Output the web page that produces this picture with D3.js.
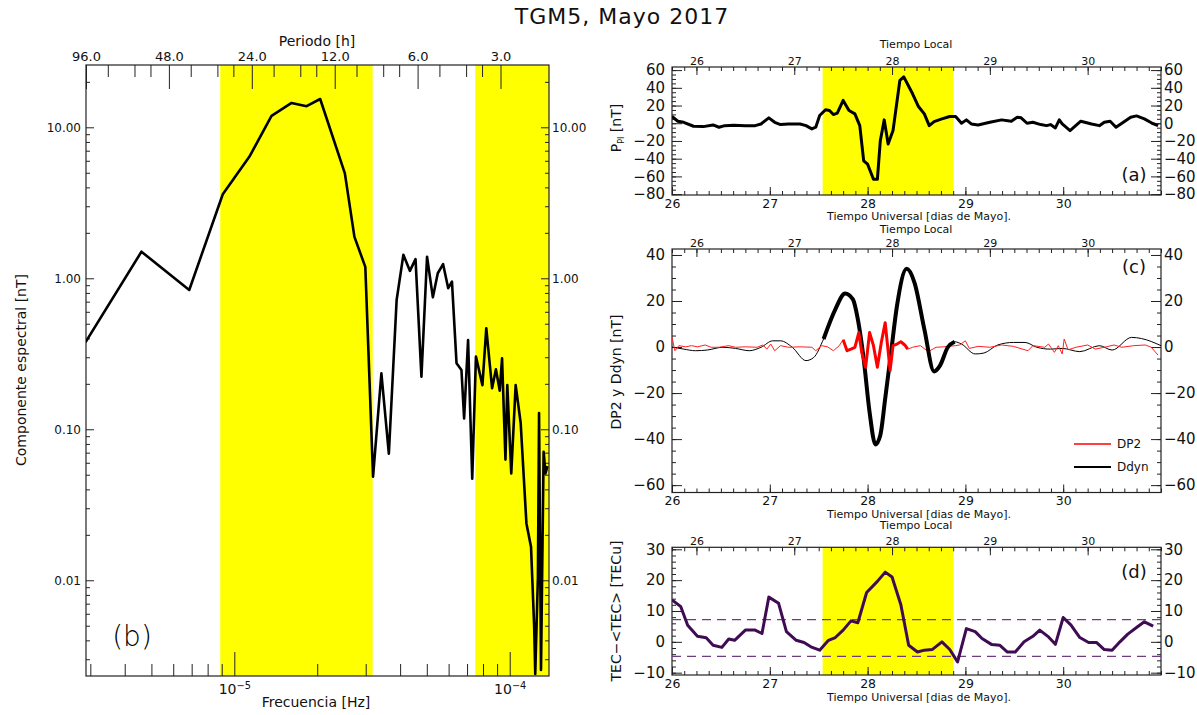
<!DOCTYPE html>
<html>
<head>
<meta charset="utf-8">
<script src="https://cdn.jsdelivr.net/npm/d3@7"></script>
<style>
  html, body { margin: 0; padding: 0; background: #fff; }
  svg { display: block; }
  text { font-family: 'DejaVu Sans', 'Liberation Sans', sans-serif; fill: #111; }
</style>
</head>
<body>
<svg id="chart" width="1197" height="715"></svg>
<script>
// ---------------- DATA ----------------
// Panel (b): spectral component vs frequency
const specFreq = [2.88e-6, 4.60e-6, 6.86e-6, 9.08e-6, 1.135e-5, 1.365e-5, 1.614e-5, 1.83e-5, 2.05e-5, 2.52e-5,
  2.73e-5, 2.99e-5, 3.19e-5, 3.42e-5, 3.64e-5, 3.885e-5, 4.11e-5, 4.34e-5, 4.55e-5, 4.78e-5,
  5.01e-5, 5.26e-5, 5.48e-5, 5.73e-5, 5.98e-5, 6.17e-5, 6.41e-5, 6.68e-5, 6.83e-5, 7.06e-5,
  7.31e-5, 7.54e-5, 7.96e-5, 8.22e-5, 8.63e-5, 8.91e-5, 9.20e-5, 9.38e-5, 9.65e-5, 9.80e-5,
  1.013e-4, 1.051e-4, 1.096e-4, 1.150e-4, 1.195e-4, 1.227e-4, 1.238e-4, 1.266e-4, 1.278e-4, 1.299e-4,
  1.328e-4, 1.349e-4, 1.371e-4];
const specAmp = [0.377, 1.50, 0.837, 3.6, 6.4, 11.9, 14.5, 13.8, 15.4, 4.95,
  1.88, 1.19, 0.0485, 0.235, 0.069, 0.718, 1.43, 1.12, 1.34, 0.223,
  1.39, 0.748, 1.08, 1.24, 0.86, 0.95, 0.274, 0.247, 0.118, 0.39,
  0.047, 0.303, 0.196, 0.467, 0.187, 0.25, 0.18, 0.295, 0.063, 0.196,
  0.051, 0.196, 0.11, 0.0238, 0.0167, 0.0049, 0.0024, 0.0106, 0.128, 0.00255,
  0.071, 0.051, 0.057];
const periodMajor = [96, 48, 24, 12, 6, 3];           // hours
const periodMinor = [80, 64, 56, 40, 32, 28, 20, 16, 14, 10, 8, 7, 5, 4, 3.5];
const specYMajor = [0.01, 0.1, 1, 10];
const specYLabels = ["0.01", "0.10", "1.00", "10.00"];
const freqMajor = [1e-5, 1e-4];
const freqBands = [[8.89e-6, 3.18e-5], [7.50e-5, 1.389e-4]];

// Panel (a): P_PI
const utA = [26.00, 26.06, 26.12, 26.22, 26.32, 26.42, 26.48, 26.54, 26.63, 26.75, 26.85, 26.91, 26.99, 27.05, 27.11,
  27.19, 27.31, 27.37, 27.43, 27.47, 27.51, 27.57, 27.61, 27.65, 27.69, 27.75, 27.81, 27.87, 27.92, 27.96,
  28.00, 28.06, 28.10, 28.13, 28.17, 28.21, 28.26, 28.33, 28.37, 28.46, 28.52, 28.58, 28.63, 28.68, 28.76,
  28.84, 28.90, 28.96, 29.01, 29.06, 29.13, 29.25, 29.37, 29.47, 29.53, 29.57, 29.63, 29.69, 29.77, 29.83,
  29.87, 29.92, 29.96, 29.99, 30.07, 30.18, 30.29, 30.37, 30.42, 30.48, 30.54, 30.60, 30.69, 30.75, 30.83,
  30.91, 30.97];
const ppi = [7.6, 2.3, 1.1, -3.4, -3.8, -1.9, -4.5, -2.7, -2.3, -2.7, -2.7, -0.8, 6.1, 1.1, -1.5,
  -0.8, -0.8, -2.7, -6.4, -4.5, 8.7, 15.2, 14.4, 9.8, 11.4, 25.8, 14.4, 10.6, -2.7, -42.4,
  -46.2, -63.3, -63.3, -19.7, 3.8, -23.5, -8.3, 48.5, 52.3, 33.3, 18.9, 10.6, -2.7, 1.9, 4.9,
  7.6, 7.6, 0.0, 3.8, -0.8, -1.9, 1.1, 3.8, 2.3, 6.8, 6.1, 0.0, 1.1, -1.5, -2.7,
  -1.5, -5.3, 3.8, -0.8, -8.3, 2.3, -0.8, -2.7, 1.1, 2.3, -4.5, 0.0, 6.8, 8.3, 4.9,
  0.0, -2.7];
const stormWindow = [27.54, 28.88];   // UT days (yellow band)

// Panel (c): Ddyn and DP2
const utDdyn = [26.00, 26.12, 26.24, 26.36, 26.52, 26.65, 26.79, 26.91, 27.03, 27.11, 27.23, 27.37, 27.45, 27.55, 27.67,
  27.77, 27.85, 27.90, 27.96, 28.02, 28.08, 28.13, 28.18, 28.24, 28.30, 28.40, 28.48, 28.58, 28.68, 28.74,
  28.82, 28.89, 28.96, 29.10, 29.19, 29.33, 29.49, 29.61, 29.73, 29.87, 29.99, 30.17, 30.37, 30.50, 30.70,
  30.80, 31.00];
const ddyn = [0.0, -0.9, -1.6, -1.3, -0.1, -0.6, -1.6, -0.1, 2.7, 2.7, -0.1, -5.9, -4.5, 3.5, 16.4,
  23.3, 20.7, 12.1, -5.2, -28.2, -42.3, -38.3, -22.4, -2.3, 17.8, 34.0, 27.9, 7.8, -10.6, -8.1,
  -0.1, 2.3, 1.3, -3.0, -2.6, 0.9, 2.0, 2.0, -0.1, -0.9, -0.6, -2.0, 0.6, -1.3, 4.2,
  3.7, 0.6];
const ddynThick = [27.54, 28.89];
const utDP2 = [26.00, 26.03, 26.07, 26.14, 26.20, 26.26, 26.34, 26.40, 26.48, 26.58, 26.65, 26.75, 26.87, 26.93, 26.97,
  27.01, 27.05, 27.11, 27.19, 27.31, 27.43, 27.47, 27.53, 27.59, 27.65, 27.71, 27.75, 27.79, 27.83, 27.87,
  27.91, 27.94, 27.98, 28.02, 28.06, 28.10, 28.14, 28.18, 28.23, 28.26, 28.30, 28.34, 28.38, 28.41, 28.46,
  28.54, 28.62, 28.70, 28.78, 28.90, 28.94, 29.00, 29.04, 29.13, 29.25, 29.37, 29.49, 29.64, 29.69, 29.81,
  29.85, 29.91, 29.95, 29.99, 30.01, 30.05, 30.13, 30.25, 30.33, 30.44, 30.52, 30.60, 30.72, 30.84, 30.90,
  30.97];
const dp2 = [4.2, -1.6, 0.6, 0.1, 0.6, 0.1, 0.9, -0.1, -0.1, 0.6, -0.1, 0.1, -0.1, 0.9, -0.9,
  1.3, -1.6, 0.6, -0.1, 0.1, -0.1, -1.6, 0.6, 0.1, -1.6, 0.6, 3.2, -1.6, -0.9, -0.1,
  6.3, -2.3, -8.8, 6.3, 0.6, -8.8, 2.0, 10.6, -10.2, 0.6, 1.3, 2.3, 0.9, -0.9, -0.1,
  0.6, -2.0, -0.1, 0.1, 0.6, 0.9, 2.7, -0.6, 0.3, -0.1, 0.9, 0.3, -1.6, 0.6, -0.1,
  1.3, -2.3, 0.6, -3.0, 3.5, -1.2, -0.1, 0.9, -0.9, 0.1, 0.9, -0.1, 0.6, 0.9, -0.1,
  -3.5];
const dp2Thick = [27.72, 28.42];

// Panel (d): TEC - <TEC>
const utTec = [26.00, 26.09, 26.16, 26.26, 26.35, 26.42, 26.51, 26.58, 26.64, 26.75, 26.85, 26.92, 26.99, 27.09, 27.17,
  27.27, 27.35, 27.42, 27.51, 27.60, 27.67, 27.75, 27.83, 27.90, 27.99, 28.10, 28.18, 28.25, 28.34, 28.42,
  28.51, 28.58, 28.66, 28.76, 28.84, 28.92, 29.01, 29.10, 29.17, 29.27, 29.35, 29.43, 29.51, 29.60, 29.69,
  29.76, 29.85, 29.92, 30.00, 30.08, 30.17, 30.26, 30.34, 30.42, 30.50, 30.58, 30.66, 30.76, 30.83, 30.92];
const tec = [13.6, 11.4, 5.4, 1.8, 1.3, -1.1, -1.8, 0.9, 0.5, 3.8, 3.8, 2.7, 14.5, 12.5, 3.3,
  0.5, -0.2, -1.6, -2.7, 0.5, 1.4, 3.8, 6.8, 6.2, 16.0, 19.6, 22.6, 21.0, 12.0, -1.1,
  -3.3, -2.7, -2.5, 0.0, -2.5, -6.5, 4.3, 3.3, 1.1, -0.9, -1.1, -3.3, -3.3, 0.0, 1.8,
  3.8, 1.6, -0.8, 7.9, 5.4, 1.4, -0.2, -0.2, -2.5, -2.7, 0.0, 2.5, 4.9, 6.5, 5.1];
const tecBands = [7.2, -4.7];

const utTicks = [26, 27, 28, 29, 30];
const ltTicks = [26, 27, 28, 29, 30];
const ltOffset = 0.25;  // Local time = UT - 6 h

// ---------------- DRAW ----------------
const svg = d3.select("#chart");
const AX = "#222";
const YEL = "#ffff00";

svg.append("text").attr("x", 622).attr("y", 18).attr("text-anchor", "middle")
  .attr("dominant-baseline", "middle").attr("font-size", 22).attr("letter-spacing", 1)
  .text("TGM5, Mayo 2017");

// ===== Panel (b) =====
{
  const L = 86, R = 549, T = 65, B = 676;
  const x = d3.scaleLog().domain([1 / (96 * 3600), 1 / (2 * 3600)]).range([L, R]);
  const y = d3.scaleLog().domain([Math.pow(10, -2.634), Math.pow(10, 1.4126)]).range([B, T]);
  const g = svg.append("g");
  const clipId = "clipB";
  svg.append("clipPath").attr("id", clipId).append("rect")
    .attr("x", L).attr("y", T).attr("width", R - L).attr("height", B - T);

  freqBands.forEach(b => {
    g.append("rect").attr("x", x(b[0])).attr("y", T).attr("width", x(b[1]) - x(b[0]))
      .attr("height", B - T).attr("fill", YEL);
  });

  // bottom axis (frequency)
  const fMinor = [];
  [-6, -5, -4].forEach(e => { for (let k = 2; k <= 9; k++) { const v = k * Math.pow(10, e); if (v >= x.domain()[0] && v <= x.domain()[1]) fMinor.push(v); } });
  g.append("g").attr("transform", `translate(0,${B})`)
    .call(d3.axisBottom(x).tickValues(fMinor).tickSize(-12).tickSizeOuter(0).tickFormat(""))
    .call(s => s.select(".domain").remove());
  const bx = g.append("g").attr("transform", `translate(0,${B})`)
    .call(d3.axisBottom(x).tickValues(freqMajor).tickSize(-24).tickSizeOuter(0).tickPadding(8))
    .call(s => s.select(".domain").remove());
  bx.selectAll(".tick text").attr("font-size", 14).each(function (d) {
    const t = d3.select(this);
    const e = Math.round(Math.log10(d));
    t.text("10");
    t.append("tspan").attr("dy", "-0.55em").attr("font-size", "0.7em").text("−" + Math.abs(e));
  });

  // top axis (period)
  g.append("g").attr("transform", `translate(0,${T})`)
    .call(d3.axisTop(x).tickValues(periodMinor.map(p => 1 / (p * 3600))).tickSize(-12).tickSizeOuter(0).tickFormat(""))
    .call(s => s.select(".domain").remove());
  g.append("g").attr("transform", `translate(0,${T})`)
    .call(d3.axisTop(x).tickValues(periodMajor.map(p => 1 / (p * 3600))).tickSize(-24).tickSizeOuter(0).tickPadding(4)
      .tickFormat(d => (1 / (d * 3600)).toFixed(1)))
    .call(s => s.select(".domain").remove())
    .selectAll(".tick text").attr("font-size", 13);

  // y axes
  const yMinor = [];
  [-3, -2, -1, 0, 1].forEach(e => { for (let k = 2; k <= 9; k++) { const v = k * Math.pow(10, e); if (v >= y.domain()[0] && v <= y.domain()[1]) yMinor.push(v); } });
  [[d3.axisLeft, L, 5], [d3.axisRight, R, 3]].forEach(([ax, px, pad]) => {
    g.append("g").attr("transform", `translate(${px},0)`)
      .call(ax(y).tickValues(yMinor).tickSize(-4).tickSizeOuter(0).tickFormat(""))
      .call(s => s.select(".domain").remove());
    g.append("g").attr("transform", `translate(${px},0)`)
      .call(ax(y).tickValues(specYMajor).tickSize(-8).tickSizeOuter(0).tickPadding(pad)
        .tickFormat((d, i) => specYLabels[i]))
      .call(s => s.select(".domain").remove())
      .selectAll(".tick text").attr("font-size", 12);
  });
  g.selectAll(".tick line").attr("stroke", AX);

  g.append("rect").attr("x", L).attr("y", T).attr("width", R - L).attr("height", B - T)
    .attr("fill", "none").attr("stroke", AX).attr("stroke-width", 1.2);

  const line = d3.line().x((d, i) => x(specFreq[i])).y(d => y(d));
  g.append("path").datum(specAmp).attr("clip-path", `url(#${clipId})`)
    .attr("d", line).attr("fill", "none").attr("stroke", "#000").attr("stroke-width", 2.6)
    .attr("stroke-linejoin", "round");

  g.append("text").attr("x", 317).attr("y", 42).attr("text-anchor", "middle").attr("dominant-baseline", "middle")
    .attr("font-size", 14).text("Periodo [h]");
  g.append("text").attr("x", 316).attr("y", 703).attr("text-anchor", "middle").attr("dominant-baseline", "middle")
    .attr("font-size", 14).text("Frecuencia [Hz]");
  g.append("text").attr("transform", "translate(22,370) rotate(-90)").attr("text-anchor", "middle")
    .attr("dominant-baseline", "middle").attr("font-size", 14).text("Componente espectral [nT]");
  g.append("text").attr("x", 132).attr("y", 638).attr("text-anchor", "middle").attr("dominant-baseline", "middle")
    .attr("font-size", 28).attr("font-weight", 300).style("fill", "#000").text("(b)");
}

// ===== Right time-series panels =====
const XL = 672, XR = 1161;
const xUT = d3.scaleLinear().domain([26, 31]).range([XL, XR]);
const xLT = d3.scaleLinear().domain([26 - ltOffset, 31 - ltOffset]).range([XL, XR]);

function timePanel(opt) {
  const { T, B, dom, major, minor, id } = opt;
  const y = d3.scaleLinear().domain(dom).range([B, T]);
  const g = svg.append("g");
  svg.append("clipPath").attr("id", id).append("rect")
    .attr("x", XL).attr("y", T).attr("width", XR - XL).attr("height", B - T);
  if (opt.shade) {
    g.append("rect").attr("x", xUT(stormWindow[0])).attr("y", T)
      .attr("width", xUT(stormWindow[1]) - xUT(stormWindow[0])).attr("height", B - T).attr("fill", YEL);
  }
  const minorX = d3.range(26, 31.001, 0.125);
  // bottom
  g.append("g").attr("transform", `translate(0,${B})`)
    .call(d3.axisBottom(xUT).tickValues(minorX).tickSize(-4).tickSizeOuter(0).tickFormat(""))
    .call(s => s.select(".domain").remove());
  g.append("g").attr("transform", `translate(0,${B})`)
    .call(d3.axisBottom(xUT).tickValues(utTicks).tickSize(-8).tickSizeOuter(0).tickPadding(4).tickFormat(d3.format("d")))
    .call(s => s.select(".domain").remove())
    .selectAll(".tick text").attr("font-size", 12.5);
  // top (local time)
  const minorLT = d3.range(25.75, 30.751, 0.125);
  g.append("g").attr("transform", `translate(0,${T})`)
    .call(d3.axisTop(xLT).tickValues(minorLT).tickSize(-4).tickSizeOuter(0).tickFormat(""))
    .call(s => s.select(".domain").remove());
  g.append("g").attr("transform", `translate(0,${T})`)
    .call(d3.axisTop(xLT).tickValues(ltTicks).tickSize(-8).tickSizeOuter(0).tickPadding(2).tickFormat(d3.format("d")))
    .call(s => s.select(".domain").remove())
    .selectAll(".tick text").attr("font-size", 11);
  // y axes
  const yMaj = d3.range(opt.yMin, opt.yMax + 0.001, major);
  const yMin = d3.range(opt.yMin, opt.yMax + 0.001, minor);
  [[d3.axisLeft, XL, 7], [d3.axisRight, XR, 3]].forEach(([ax, px, pad]) => {
    g.append("g").attr("transform", `translate(${px},0)`)
      .call(ax(y).tickValues(yMin).tickSize(-4).tickSizeOuter(0).tickFormat(""))
      .call(s => s.select(".domain").remove());
    g.append("g").attr("transform", `translate(${px},0)`)
      .call(ax(y).tickValues(yMaj).tickSize(-10).tickSizeOuter(0).tickPadding(pad).tickFormat(d3.format("d")))
      .call(s => s.select(".domain").remove())
      .selectAll(".tick text").attr("font-size", 15);
  });
  g.selectAll(".tick line").attr("stroke", AX);
  g.append("rect").attr("x", XL).attr("y", T).attr("width", XR - XL).attr("height", B - T)
    .attr("fill", "none").attr("stroke", AX).attr("stroke-width", 1.2);

  g.append("text").attr("x", 916).attr("y", opt.ltY).attr("text-anchor", "middle").attr("dominant-baseline", "middle")
    .attr("font-size", 11).text("Tiempo Local");
  g.append("text").attr("x", 919).attr("y", opt.utY).attr("text-anchor", "middle").attr("dominant-baseline", "middle")
    .attr("font-size", 11).text("Tiempo Universal [dias de Mayo].");
  g.append("text").attr("x", 1134).attr("y", opt.labY).attr("text-anchor", "middle").attr("dominant-baseline", "middle")
    .attr("font-size", 18).text(opt.label);
  return { g, y, clip: `url(#${id})` };
}

// (a)
{
  const p = timePanel({ T: 67, B: 195, dom: [-81, 63.5], major: 20, minor: 5, yMin: -80, yMax: 60, id: "clipA",
    shade: true, ltY: 45, utY: 217, labY: 176, label: "(a)" });
  const line = d3.line().x((d, i) => xUT(utA[i])).y(d => p.y(d));
  p.g.append("path").datum(ppi).attr("clip-path", p.clip).attr("d", line)
    .attr("fill", "none").attr("stroke", "#000").attr("stroke-width", 3).attr("stroke-linejoin", "round");
  const t = p.g.append("text").attr("transform", "translate(617,128) rotate(-90)").attr("text-anchor", "middle")
    .attr("dominant-baseline", "middle").attr("font-size", 14);
  t.append("tspan").text("P");
  t.append("tspan").attr("font-size", 8).attr("dy", 4).text("PI");
  t.append("tspan").attr("dy", -4).text(" [nT]");
}

// (c)
{
  const p = timePanel({ T: 249, B: 492.5, dom: [-63.2, 42.6], major: 20, minor: 5, yMin: -60, yMax: 40, id: "clipC",
    shade: false, ltY: 229.5, utY: 514.5, labY: 268, label: "(c)" });
  const dd = utDdyn.map((u, i) => [u, ddyn[i]]);
  const dp = utDP2.map((u, i) => [u, dp2[i]]);
  p.g.append("path").datum(dd).attr("clip-path", p.clip)
    .attr("d", d3.line().x(d => xUT(d[0])).y(d => p.y(d[1])).curve(d3.curveMonotoneX))
    .attr("fill", "none").attr("stroke", "#000").attr("stroke-width", 1);
  p.g.append("path").datum(dp).attr("clip-path", p.clip).attr("d", d3.line().x(d => xUT(d[0])).y(d => p.y(d[1])))
    .attr("fill", "none").attr("stroke", "#ff2020").attr("stroke-width", 1);
  p.g.append("path").datum(dd.filter(d => d[0] >= ddynThick[0] && d[0] <= ddynThick[1]))
    .attr("d", d3.line().x(d => xUT(d[0])).y(d => p.y(d[1])).curve(d3.curveMonotoneX))
    .attr("fill", "none").attr("stroke", "#000").attr("stroke-width", 4).attr("stroke-linejoin", "round");
  p.g.append("path").datum(dp.filter(d => d[0] >= dp2Thick[0] && d[0] <= dp2Thick[1]))
    .attr("d", d3.line().x(d => xUT(d[0])).y(d => p.y(d[1])))
    .attr("fill", "none").attr("stroke", "#ff0000").attr("stroke-width", 3).attr("stroke-linejoin", "round");
  // legend
  const lg = p.g.append("g");
  [["DP2", "#ff0000", 444], ["Ddyn", "#000", 467]].forEach(([name, col, yy]) => {
    lg.append("line").attr("x1", 1074).attr("x2", 1111).attr("y1", yy).attr("y2", yy)
      .attr("stroke", col).attr("stroke-width", name === "DP2" ? 1.5 : 2);
    lg.append("text").attr("x", 1117).attr("y", yy).attr("dominant-baseline", "middle").attr("font-size", 12).text(name);
  });
  p.g.append("text").attr("transform", "translate(617,372) rotate(-90)").attr("text-anchor", "middle")
    .attr("dominant-baseline", "middle").attr("font-size", 14).text("DP2 y Ddyn [nT]");
}

// (d)
{
  const p = timePanel({ T: 547.3, B: 675, dom: [-10.75, 30.65], major: 10, minor: 2, yMin: -10, yMax: 30, id: "clipD",
    shade: true, ltY: 526, utY: 698, labY: 573, label: "(d)" });
  tecBands.forEach(v => {
    p.g.append("line").attr("x1", XL).attr("x2", XR).attr("y1", p.y(v)).attr("y2", p.y(v))
      .attr("stroke", "#6e3d80").attr("stroke-width", 1.3).attr("stroke-dasharray", "9,6");
  });
  const line = d3.line().x((d, i) => xUT(utTec[i])).y(d => p.y(d));
  p.g.append("path").datum(tec).attr("clip-path", p.clip).attr("d", line)
    .attr("fill", "none").attr("stroke", "#3f0b52").attr("stroke-width", 3).attr("stroke-linejoin", "round");
  p.g.append("text").attr("transform", "translate(617,611) rotate(-90)").attr("text-anchor", "middle")
    .attr("dominant-baseline", "middle").attr("font-size", 14).text("TEC−<TEC> [TECu]");
}
</script>
</body>
</html>
